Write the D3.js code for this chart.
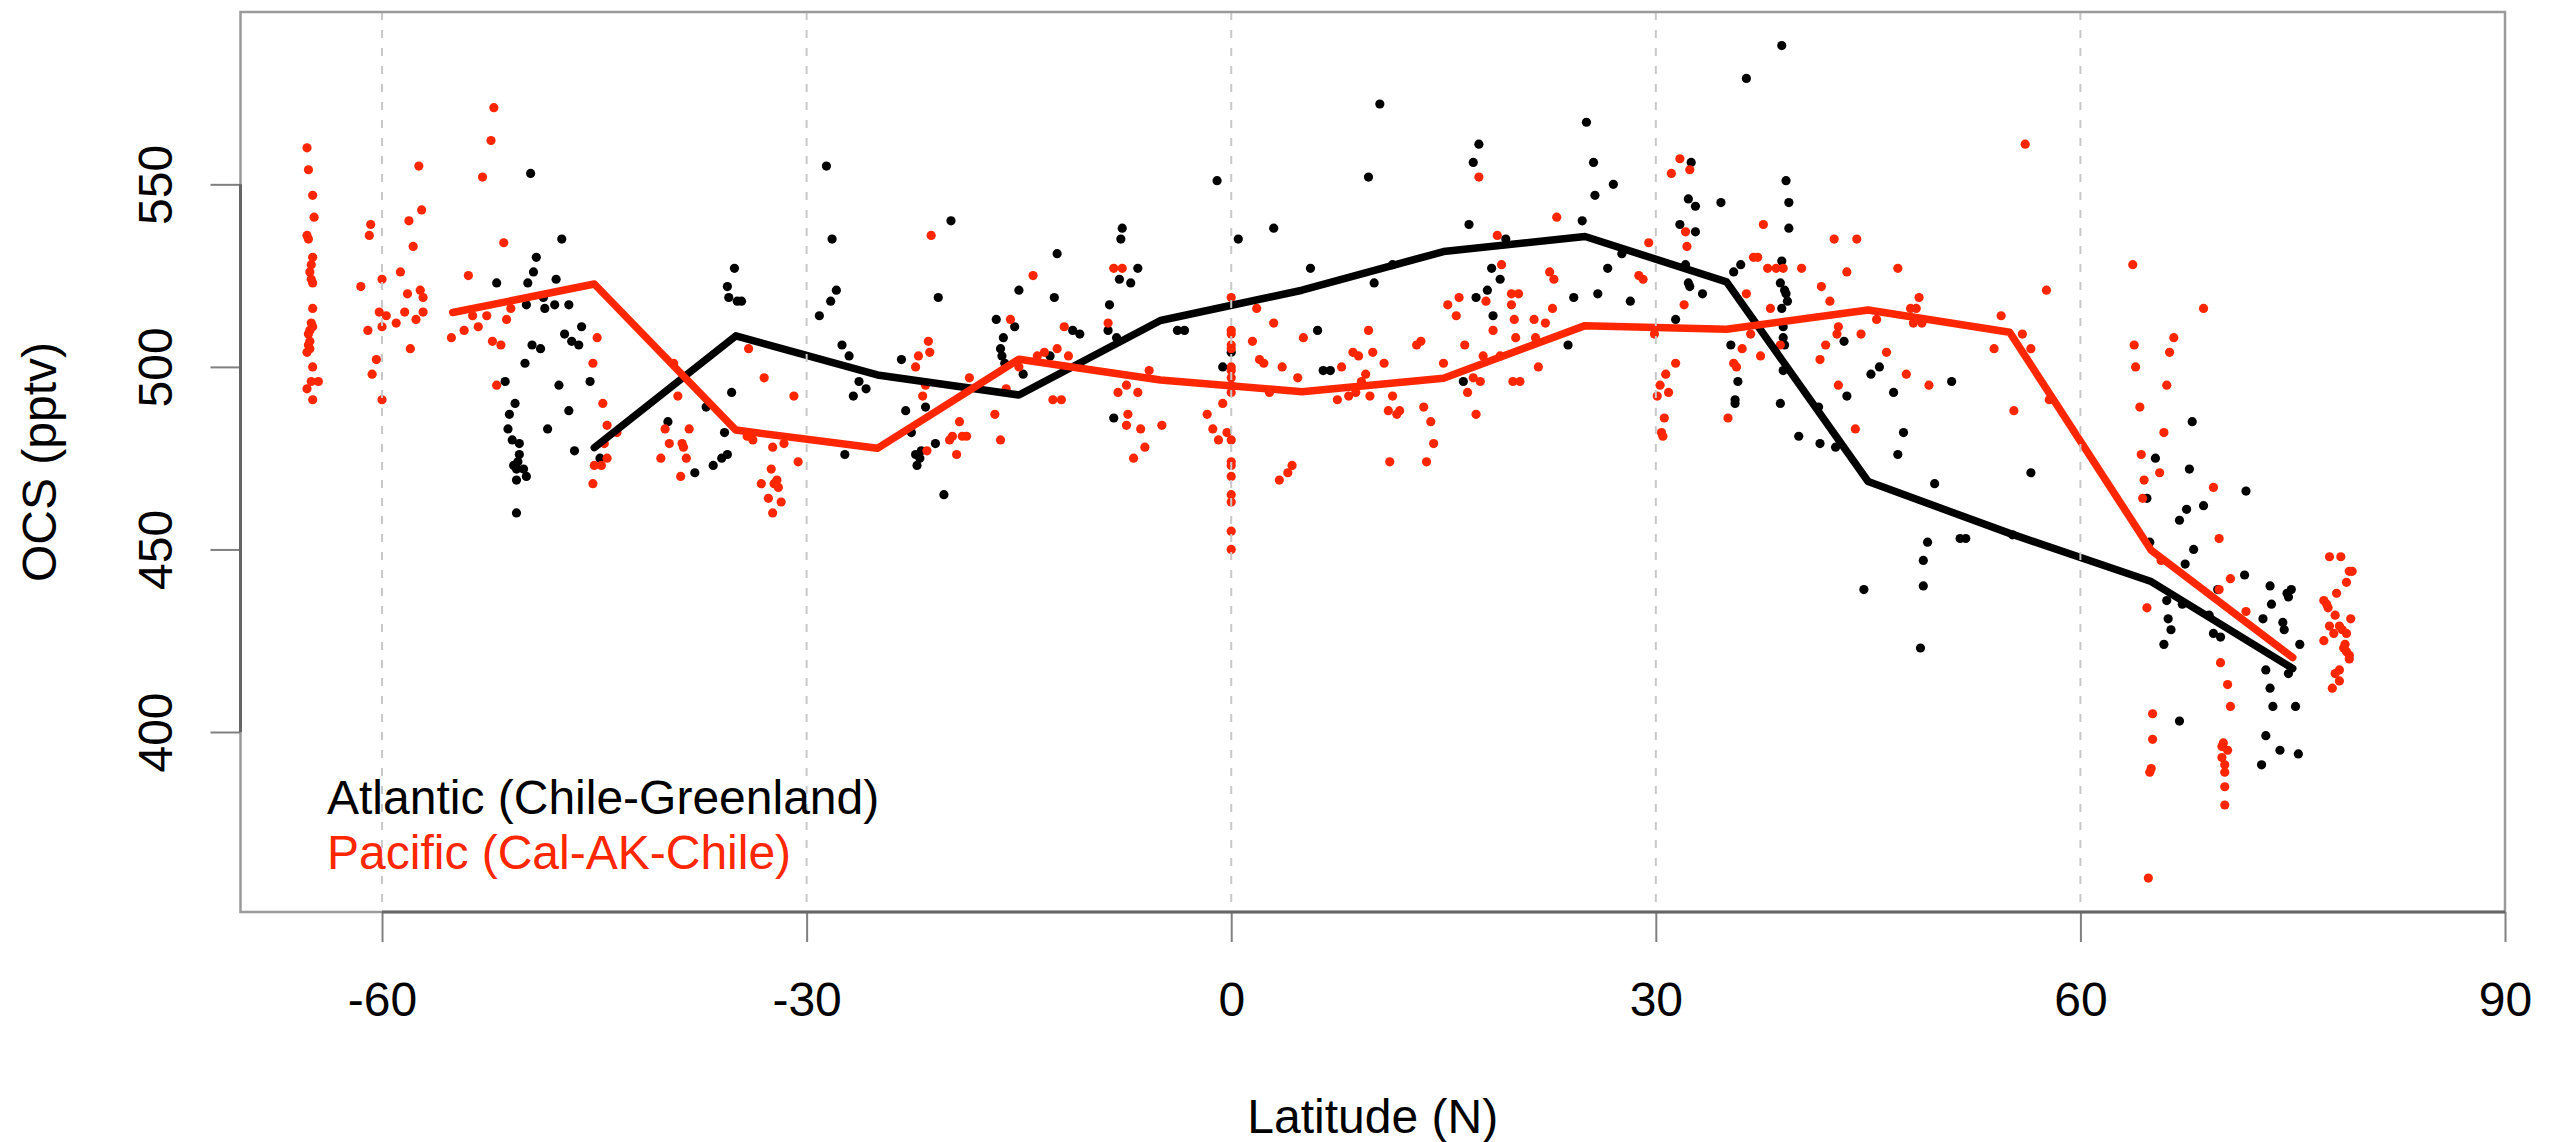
<!DOCTYPE html>
<html>
<head>
<meta charset="utf-8">
<script src="https://cdn.jsdelivr.net/npm/d3@7"></script>
<style>
  body { margin: 0; background: #ffffff; }
  svg text { font-family: "Liberation Sans", Arial, Helvetica, sans-serif; }
</style>
</head>
<body>
<div id="scatter"></div>
<script>
// ---- data ----
var xTicks = [-60, -30, 0, 30, 60, 90];
var yTicks = [400, 450, 500, 550];

// 10 degree bin centres and the bin means drawn as lines
var binLat = [-55, -45, -35, -25, -15, -5, 5, 15, 25, 35, 45, 55, 65, 75];
var atlanticMean = [null, 477.9, 508.5, 497.8, 492.3, 512.7, 521.0, 531.6, 535.7, 523.3, 468.6, 454.4, 441.2, 417.4];
var pacificMean = [514.9, 522.7, 482.7, 477.7, 502.1, 496.4, 493.2, 496.9, 511.3, 510.3, 515.6, 509.5, 449.8, 420.4];

// [latitude, OCS pptv]
var atlanticPoints = [
  [-49.5,553],[-47.3,535],[-49.1,530],[-49.3,526],[-51.9,523],[-49.7,523],[-47.7,524],[-48.6,519],[-49.8,517],[-48.5,516],
  [-47.8,517],[-46.8,517],[-45.9,511],[-47.1,509],[-46.6,507],[-46.1,506],[-49.4,506],[-48.8,505],[-49.9,501],[-51.3,496],
  [-47.5,495],[-45.3,496],[-50.6,490],[-51.0,487],[-46.8,488],[-51.1,483],[-48.3,483],[-50.8,480],[-50.3,479],[-50.3,476],
  [-50.4,474],[-50.7,473],[-50.0,472],[-50.5,472],[-49.8,470],[-50.5,469],[-46.4,477],[-44.6,475],[-50.5,460],
  [-39.8,485],[-37.1,489],[-35.3,493],[-35.8,482],[-35.6,476],[-36.0,475],[-36.6,473],[-37.9,471],[-35.1,527],[-35.6,522],
  [-35.5,519],[-34.9,518],[-34.6,518],[-28.6,555],[-28.2,535],[-27.9,521],[-28.3,518],[-29.1,514],[-27.5,506],[-27.0,503],
  [-26.3,496],[-25.8,494],[-26.7,492],[-27.3,476],[-19.8,540],[-20.7,519],[-23.3,502],[-23.0,488],[-21.6,489],[-22.6,482],
  [-20.9,479],[-21.9,477],[-22.3,476],[-22.0,475],[-22.2,473],[-20.3,465],[-16.6,513],[-16.1,508],[-16.3,505],[-16.2,503],
  [-16.0,501],[-15.3,511],[-15.0,521],[-14.7,498],[-12.8,503],
  [-12.3,531],[-12.5,519],[-11.2,510],[-10.7,509],[-8.6,517],[-8.7,510],[-8.1,508],[-7.8,535],[-7.7,538],[-7.9,524],
  [-7.1,523],[-6.6,527],[-8.3,486],[-3.8,510],[-3.3,510],[-1.0,551],[0.5,535],[-0.6,500],[0.0,504],[3.0,538],
  [5.6,527],[6.1,510],[6.5,499],[7.0,499],[9.7,552],[10.5,572],[10.1,523],[11.4,528],
  [16.8,539],[17.5,561],[17.1,556],[16.4,496],[17.3,519],[18.1,521],[18.4,527],[19.0,524],[18.5,514],[19.4,535],
  [23.8,506],[24.2,519],[24.8,540],[25.1,567],[25.6,556],[25.7,547],[27.0,550],[25.9,520],[26.6,527],[27.6,531],
  [28.2,518],[31.4,513],[31.7,539],[32.1,528],[32.3,523],[32.4,522],[32.5,556],[32.3,546],[32.8,544],[32.8,537],
  [33.3,520],[34.6,545],[35.3,506],[35.8,496],[35.6,491],[35.6,490],[36.0,528],[35.5,526],[38.9,529],[38.8,523],
  [39.1,521],[39.2,520],[39.3,518],[38.9,516],[39.0,511],[39.0,508],[39.1,506],[39.0,499],[38.8,490],[39.2,551],
  [39.4,545],[39.4,538],[40.1,481],[41.6,479],[41.5,489],[42.7,478],[43.3,507],[43.5,492],[38.9,588],[36.4,579],
  [45.8,500],[45.2,498],[46.8,493],[47.5,482],[47.1,476],[50.9,496],[49.7,468],[49.2,452],[48.9,447],[48.9,440],
  [44.7,439],[51.5,453],[51.9,453],[56.5,471],[55.2,454],[48.7,423],
  [67.9,485],[65.3,475],[67.7,472],[71.7,466],[64.7,464],[67.5,461],[68.7,462],[67.0,458],[64.9,452],[68.0,450],
  [67.4,446],[71.6,443],[69.7,439],[66.1,436],[67.2,435],[66.2,431],[66.4,428],[65.9,424],[69.4,427],[69.9,426],
  [69.1,432],[73.4,440],[74.6,438],[74.9,439],[74.7,437],[73.5,435],[72.9,431],[74.3,430],[74.4,428],[75.5,424],
  [73.1,417],[74.7,416],[73.4,412],[73.6,407],[75.2,407],[67.0,403],[73.1,399],[74.1,395],[75.4,394],[72.8,391]
];

var pacificPoints = [
  [-65.3,560],[-65.2,554],[-64.9,547],[-64.8,541],[-65.3,536],[-65.2,535],[-64.9,530],[-65.0,528],[-65.1,526],[-65.0,524],
  [-64.9,523],[-64.9,516],[-65.0,512],[-64.9,511],[-65.1,510],[-65.2,509],[-65.1,507],[-65.2,506],[-65.1,505],[-65.3,504],
  [-64.9,500],[-65.0,496],[-64.5,496],[-65.3,494],[-64.9,491],
  [-60.8,539],[-60.9,536],[-61.5,522],[-60.0,524],[-60.2,515],[-59.7,514],[-61.0,510],[-60.0,511],[-60.4,502],[-60.7,498],
  [-60.0,491],[-59.0,512],[-58.4,515],[-58.2,520],[-58.7,526],[-57.8,533],[-58.1,540],[-57.2,543],[-57.4,555],[-57.3,521],
  [-57.1,519],[-57.1,515],[-57.6,513],[-58.0,505],
  [-55.1,508],[-54.2,510],[-53.2,511],[-53.6,514],[-52.6,514],[-53.9,525],[-52.9,552],[-52.3,562],[-52.1,571],[-51.4,534],
  [-50.9,516],[-51.2,513],[-52.2,507],[-51.6,506],[-51.9,495],[-44.8,508],[-45.1,501],[-44.4,490],[-44.1,484],[-44.3,479],
  [-44.1,475],[-44.5,473],[-45.0,473],[-45.1,468],[-43.4,482],
  [-39.4,501],[-39.1,492],[-40.0,483],[-38.3,483],[-39.7,479],[-38.8,479],[-38.7,478],[-40.3,475],[-38.5,475],[-38.9,470],
  [-34.1,505],[-33.0,497],[-30.9,492],[-34.2,481],[-33.8,480],[-32.4,478],[-31.6,479],[-30.6,474],[-32.5,472],[-33.2,468],
  [-32.3,468],[-32.1,469],[-32.0,467],[-32.7,464],[-31.8,463],[-32.4,460],[-21.2,536],[-21.4,507],[-21.3,504],[-22.1,503],
  [-22.3,500],[-21.8,492],[-21.6,495],[-21.5,477],[-19.2,485],[-19.7,481],[-19.9,480],[-19.0,481],[-18.7,481],[-19.4,476],
  [-18.5,497],[-16.7,487],[-16.3,480],[-15.9,494],[-15.6,513],[-14.0,525],[-13.7,503],[-13.2,504],[-15.0,500],
  [-11.8,511],[-12.3,505],[-11.5,503],[-12.6,491],[-12.0,491],[-8.3,527],[-7.7,527],[-8.7,512],[-8.0,493],[-7.4,495],
  [-6.6,493],[-7.3,487],[-7.4,484],[-6.4,483],[-6.1,478],[-6.9,475],[-5.8,499],[-4.9,484],
  [0.0,519],[0.0,510],[0.0,509],[0.0,506],[0.0,505],[0.0,500],[0.0,499],[0.0,497],[0.0,495],[0.0,493],
  [0.0,480],[0.0,474],[0.0,473],[0.0,470],[0.0,465],[0.0,463],[0.0,455],[0.0,450],
  [-0.6,490],[-1.7,487],[-1.3,483],[-0.9,480],[-0.3,482],[1.8,516],[1.5,507],[2.0,502],[2.3,501],[3.0,512],
  [3.6,500],[4.7,497],[5.1,508],[2.7,493],[3.4,469],[4.0,471],[4.3,473],[7.5,491],[7.8,500],[8.3,492],
  [8.6,504],[9.0,503],[9.5,498],[9.2,496],[8.8,493],[9.7,510],[10.0,504],[9.8,492],[10.8,501],[11.4,492],
  [11.1,488],[11.9,488],[11.7,487],[11.2,474],[13.1,506],[13.4,507],[13.6,489],[14.1,485],[14.3,479],[13.8,474],
  [15.0,501],[15.3,517],
  [17.5,552],[18.8,536],[19.1,528],[16.1,519],[15.9,514],[16.5,506],[16.7,493],[18.0,518],[18.5,510],[17.1,497],
  [17.6,496],[17.3,487],[17.8,503],[19.8,520],[20.3,520],[19.8,517],[20.0,513],[20.1,508],[21.4,513],[21.5,508],
  [22.2,512],[22.7,516],[22.5,526],[22.8,524],[23.0,541],[21.7,500],[19.9,496],[20.4,496],[19.0,503],[29.5,534],
  [28.8,525],[29.1,524],[29.9,509],[31.4,501],[30.7,498],[30.3,495],[30.1,492],[30.9,493],[30.6,486],[30.4,482],
  [30.5,481],[31.1,553],[31.7,557],[32.4,554],[32.1,537],[32.2,533],[32.0,517],[35.1,486],[35.5,501],[35.7,500],
  [36.1,505],[36.4,520],[36.7,509],[37.4,503],[37.6,539],[36.9,530],[37.2,530],[37.9,527],[38.5,527],[39.0,527],
  [38.1,516],[38.8,506],[40.3,527],[41.7,522],[42.3,518],[42.0,506],[41.6,502],[42.9,511],[42.8,509],[42.6,535],
  [42.9,495],[43.5,526],
  [44.2,535],[44.5,509],[44.1,483],[45.6,513],[46.3,504],[47.1,527],[47.7,498],[48.0,516],[48.4,516],[48.6,519],
  [48.2,512],[48.8,512],[49.3,495],[53.9,505],[54.4,514],[55.9,509],[56.5,505],[57.6,521],[56.1,561],[55.3,488],
  [57.8,491],[63.7,528],[63.8,506],[63.9,500],[66.1,495],[66.3,504],[66.6,508],[68.7,516],
  [64.2,489],[65.9,482],[64.3,476],[65.6,471],[64.5,469],[64.4,464],[69.4,467],[69.8,453],[65.7,447],[64.7,434],
  [69.8,439],[70.6,442],[71.7,433],[69.9,419],[70.4,413],[70.6,407],[65.1,405],[65.1,398],[65.0,390],[64.9,389],
  [64.8,360],[70.1,397],[70.4,395],[70.0,396],[70.0,393],[70.2,391],[70.2,389],[70.2,385],[70.2,380],
  [77.6,448],[78.4,448],[79.2,444],[79.0,444],[78.8,441],[78.1,438],[77.2,436],[77.4,435],[77.5,434],[78.0,432],
  [79.1,431],[77.6,429],[78.3,429],[77.9,427],[78.5,428],[78.8,427],[77.2,425],[78.7,424],[78.6,423],[78.8,422],
  [79.0,421],[79.0,420],[78.3,417],[78.0,416],[78.3,414],[77.8,412]
];

var atlanticColor = "#000000";
var pacificColor = "#ff2600";

// ---- layout ----
var svgWidth = 2560;
var svgHeight = 1142;

var margin = {
  top: 12,
  right: 55,
  bottom: 230,
  left: 240.5
};

var width = svgWidth - margin.left - margin.right;
var height = svgHeight - margin.top - margin.bottom;

var svg = d3
  .select("#scatter")
  .append("svg")
  .attr("width", svgWidth)
  .attr("height", svgHeight)
  .style("display", "block")
  .style("background", "#ffffff");

var chartGroup = svg.append("g")
  .attr("transform", `translate(${margin.left}, ${margin.top})`);

// scales (x limits fixed, y limits = data range padded like R does)
var xLinearScale = d3.scaleLinear()
  .domain([-70, 90])
  .range([0, width]);

var yLinearScale = d3.scaleLinear()
  .domain([350.7, 597.2])
  .range([height, 0]);

// scatter points
chartGroup.append("g")
  .selectAll("circle")
  .data(atlanticPoints)
  .enter()
  .append("circle")
  .attr("cx", d => xLinearScale(d[0]))
  .attr("cy", d => yLinearScale(d[1]))
  .attr("r", 4.6)
  .attr("fill", atlanticColor);

chartGroup.append("g")
  .selectAll("circle")
  .data(pacificPoints)
  .enter()
  .append("circle")
  .attr("cx", d => xLinearScale(d[0]))
  .attr("cy", d => yLinearScale(d[1]))
  .attr("r", 4.6)
  .attr("fill", pacificColor);

// bin mean lines
var meanLine = d3.line()
  .defined(d => d[1] !== null)
  .x(d => xLinearScale(d[0]))
  .y(d => yLinearScale(d[1]));

chartGroup.append("path")
  .datum(binLat.map((b, i) => [b, atlanticMean[i]]))
  .attr("d", meanLine)
  .attr("fill", "none")
  .attr("stroke", atlanticColor)
  .attr("stroke-width", 7.5)
  .attr("stroke-linejoin", "round")
  .attr("stroke-linecap", "round");

chartGroup.append("path")
  .datum(binLat.map((b, i) => [b, pacificMean[i]]))
  .attr("d", meanLine)
  .attr("fill", "none")
  .attr("stroke", pacificColor)
  .attr("stroke-width", 7.5)
  .attr("stroke-linejoin", "round")
  .attr("stroke-linecap", "round");

// dashed vertical grid lines (drawn over the data, as in the original)
chartGroup.append("g")
  .selectAll("line")
  .data(xTicks)
  .enter()
  .append("line")
  .attr("x1", d => xLinearScale(d))
  .attr("x2", d => xLinearScale(d))
  .attr("y1", 0)
  .attr("y2", height)
  .attr("stroke", "#c8c8c8")
  .attr("stroke-width", 2)
  .attr("stroke-dasharray", "8,10");

// plot box
chartGroup.append("rect")
  .attr("x", 0)
  .attr("y", 0)
  .attr("width", width)
  .attr("height", height)
  .attr("fill", "none")
  .attr("stroke", "#9a9a9a")
  .attr("stroke-width", 2.5);

// x axis (plain hyphen for negatives, like the original)
var bottomAxis = d3.axisBottom(xLinearScale)
  .tickValues(xTicks)
  .tickFormat(d => String(d))
  .tickSize(30)
  .tickSizeOuter(0)
  .tickPadding(40);

var xAxis = chartGroup.append("g")
  .attr("transform", `translate(0, ${height})`)
  .call(bottomAxis);

xAxis.select(".domain").remove();
xAxis.selectAll("line").attr("stroke", "#808080").attr("stroke-width", 2);
xAxis.selectAll("text")
  .attr("font-size", 48)
  .attr("fill", "#000000")
  .attr("font-family", "Liberation Sans, Arial, Helvetica, sans-serif");

xAxis.append("line")
  .attr("x1", xLinearScale(xTicks[0]))
  .attr("x2", xLinearScale(xTicks[xTicks.length - 1]))
  .attr("stroke", "#666666")
  .attr("stroke-width", 3);

// y axis, labels turned parallel to the axis
var leftAxis = d3.axisLeft(yLinearScale)
  .tickValues(yTicks)
  .tickFormat(d => String(d))
  .tickSize(30)
  .tickSizeOuter(0);

var yAxis = chartGroup.append("g")
  .call(leftAxis);

yAxis.select(".domain").remove();
yAxis.selectAll("line").attr("stroke", "#808080").attr("stroke-width", 2);
yAxis.selectAll("text")
  .attr("x", null)
  .attr("dy", null)
  .attr("text-anchor", "middle")
  .attr("transform", "translate(-69, 0) rotate(-90)")
  .attr("font-size", 48)
  .attr("fill", "#000000")
  .attr("font-family", "Liberation Sans, Arial, Helvetica, sans-serif");

yAxis.append("line")
  .attr("y1", yLinearScale(yTicks[0]))
  .attr("y2", yLinearScale(yTicks[yTicks.length - 1]))
  .attr("stroke", "#666666")
  .attr("stroke-width", 3);

// axis titles
svg.append("text")
  .attr("x", margin.left + width / 2)
  .attr("y", 1133)
  .attr("text-anchor", "middle")
  .attr("font-size", 48)
  .text("Latitude (N)");

svg.append("text")
  .attr("transform", `translate(56, ${margin.top + height / 2}) rotate(-90)`)
  .attr("text-anchor", "middle")
  .attr("font-size", 48)
  .text("OCS (pptv)");

// legend (text only)
svg.append("text")
  .attr("x", 327)
  .attr("y", 814)
  .attr("font-size", 48)
  .attr("fill", atlanticColor)
  .text("Atlantic (Chile-Greenland)");

svg.append("text")
  .attr("x", 327)
  .attr("y", 869)
  .attr("font-size", 48)
  .attr("fill", pacificColor)
  .text("Pacific (Cal-AK-Chile)");
</script>
</body>
</html>
